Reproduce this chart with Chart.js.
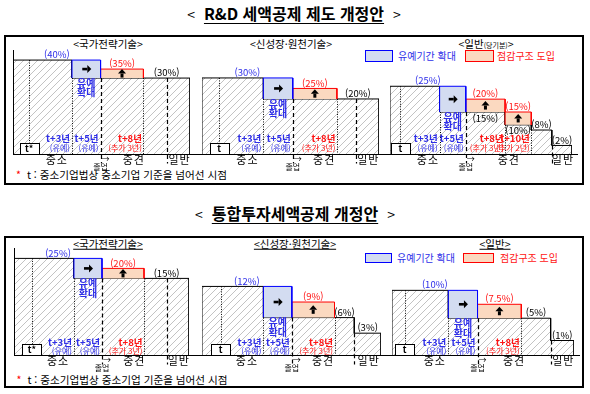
<!DOCTYPE html>
<html lang="ko">
<head>
  <meta charset="UTF-8" />
  <title>R&amp;D 세액공제 · 통합투자세액공제 개정안</title>
  <script src="https://cdn.jsdelivr.net/npm/chart.js"></script>
  <style>
    body { margin: 0; width: 590px; height: 394px; position: relative; overflow: hidden; background: #fff;
           font-family: "Noto Sans CJK KR", "Noto Sans", sans-serif; color: #000; }
    .panel { position: absolute; left: 4px; width: 580px; border: 2px solid #000; box-sizing: border-box; }
    canvas { position: absolute; }
    .lbl { position: absolute; white-space: nowrap; line-height: 1; transform: translate(-50%, -50%); }
    .lbl.left { transform: translate(0, -50%); }
    .title { font-size: 16px; font-weight: bold; }
    .title .u { text-decoration: underline; text-underline-offset: 3px; margin: 0 9px; }
    .title .br { font-weight: normal; font-size: 14px; }
    .sub { font-size: 10.5px; }
    .sub.u { text-decoration: underline; }
    .small { font-size: 7px; }
    .key { position: absolute; box-sizing: border-box; }
    .legtxt { font-size: 10px; }
    .note { font-size: 10.6px; }
  </style>
</head>

<body>
  <div class="panel" style="top:35px;height:150px"></div>
  <div class="panel" style="top:236px;height:152px"></div>

  <script>
    // rates in %, years counted after t (the point a firm outgrows SME status)
    const graceYears = [3, 5];   // 유예 t+3 -> t+5 (졸업)

    // R&D 세액공제
    const rdStratRates = [40, 30, 30];         // 국가전략기술: 중소, 중견, 일반
    const rdStratUntil = [3, 9.65];
    const rdStratTaper = [35];
    const rdStratTaperUntil = [8];

    const rdNewRates = [30, 20, 20];           // 신성장·원천기술
    const rdNewUntil = [3, 9.27];
    const rdNewTaper = [25];
    const rdNewTaperUntil = [8];

    const rdGenRates = [25, 15, 10, 8, 2];     // 일반(당기분)
    const rdGenUntil = [3, 8, 10, 11.57];
    const rdGenTaper = [20, 15];
    const rdGenTaperUntil = [8, 10];

    // 통합투자세액공제
    const invStratRates = [25, 15, 15];
    const invStratUntil = [3, 9.62];
    const invStratTaper = [20];
    const invStratTaperUntil = [8];

    const invNewRates = [12, 6, 3];
    const invNewUntil = [3, 9.39];
    const invNewTaper = [9];
    const invNewTaperUntil = [8];

    const invGenRates = [10, 5, 1];
    const invGenUntil = [3, 10.01];
    const invGenTaper = [7.5];
    const invGenTaperUntil = [8];

    const BLUE = '#2e2ee8', RED = '#ff1414', FONT = '"Noto Sans CJK KR", sans-serif';

    // page layout
    const panels = [
      { top: 36, height: 148, padTop: 14, padBottom: 30, textUp: 16, textLow: 7 },
      { top: 237, height: 150, padTop: 11, padBottom: 32, textUp: 13, textLow: 4.5 }
    ];
    // panel, canvas left, width, pad left, pad right, x range, y range
    const frames = [
      [0, 6, 192, 7, 8, -1.13, 11.26, -12.2, 45.6],
      [0, 198, 188, 4, 7, -1.17, 10.86, -6.2, 43.3],
      [0, 386, 198, 4, 12, -0.79, 13.11, -1.32, 39.1],
      [1, 6, 192, 8, 9, -1.28, 11.21, -23.3, 30.2],
      [1, 198, 188, 4, 5, -1.32, 11.27, -1.2, 19.4],
      [1, 386, 198, 6, 10, -0.86, 11.61, -1.6, 17.6]
    ];
    const series = [
      [rdStratRates, rdStratUntil, rdStratTaper, rdStratTaperUntil, 't*'],
      [rdNewRates, rdNewUntil, rdNewTaper, rdNewTaperUntil, 't'],
      [rdGenRates, rdGenUntil, rdGenTaper, rdGenTaperUntil, 't'],
      [invStratRates, invStratUntil, invStratTaper, invStratTaperUntil, 't*'],
      [invNewRates, invNewUntil, invNewTaper, invNewTaperUntil, 't'],
      [invGenRates, invGenUntil, invGenTaper, invGenTaperUntil, 't']
    ];

    function put(html, x, y, cls) {
      const d = document.createElement('div');
      d.className = 'lbl ' + (cls || '');
      d.style.left = x + 'px';
      d.style.top = y + 'px';
      d.innerHTML = html;
      document.body.appendChild(d);
    }

    function key(x, y, w, h, border, bg) {
      const d = document.createElement('div');
      d.className = 'key';
      Object.assign(d.style, { left: x + 'px', top: y + 'px', width: w + 'px', height: h + 'px',
        border: '1px solid ' + border, background: bg });
      document.body.appendChild(d);
    }

    // titles, subtitles, legends, notes
    put('<span class="br">&lt;</span><span class="u">R&amp;D 세액공제 제도 개정안</span><span class="br">&gt;</span>', 294, 13, 'title');
    put('<span class="br">&lt;</span><span class="u">통합투자세액공제 개정안</span><span class="br">&gt;</span>', 295, 212.5, 'title');

    put('&lt;국가전략기술&gt;', 108, 44, 'sub');
    put('&lt;신성장·원천기술&gt;', 291, 44, 'sub');
    put('&lt;일반<span class="small">(당기분)</span>&gt;', 486, 44, 'sub');
    put('&lt;국가전략기술&gt;', 108, 243.5, 'sub u');
    put('&lt;신성장·원천기술&gt;', 295, 243.5, 'sub u');
    put('&lt;일반&gt;', 495, 243.5, 'sub u');

    key(365, 50, 28, 12, '#0000ff', '#d3dcf1');
    key(465, 50, 29, 12, '#ff0000', '#fbd9c0');
    put('<span style="color:' + BLUE + '">유예기간 확대</span>', 398, 56, 'legtxt left');
    put('<span style="color:' + RED + '">점감구조 도입</span>', 497, 56, 'legtxt left');
    key(365, 253, 27, 10, '#0000ff', '#d3dcf1');
    key(463, 253, 31, 10, '#ff0000', '#fbd9c0');
    put('<span style="color:' + BLUE + '">유예기간 확대</span>', 397, 257.5, 'legtxt left');
    put('<span style="color:' + RED + '">점감구조 도입</span>', 500, 257.5, 'legtxt left');

    const note = '<span style="color:#f00">*</span>&nbsp; t : 중소기업법상 중소기업 기준을 넘어선 시점';
    put(note, 16, 174.5, 'note left');
    put(note, 16.5, 380, 'note left');

    // hatch for the current-law area
    function hatch() {
      const c = document.createElement('canvas');
      c.width = c.height = 7;
      const g = c.getContext('2d');
      g.fillStyle = '#fff';
      g.fillRect(0, 0, 7, 7);
      g.strokeStyle = '#b4b4b4';
      g.lineWidth = 0.8;
      g.beginPath(); g.moveTo(-1, 8); g.lineTo(8, -1); g.stroke();
      return g.createPattern(c, 'repeat');
    }
    const HATCH = hatch();

    const rateAt = (rates, until, v) => {
      const i = until.findIndex(u => v < u);
      return rates[i < 0 ? rates.length - 1 : i];
    };

    function stepPoints(rates, until, x0, x1, y0) {
      const pts = [{ x: x0, y: y0 }, { x: x0, y: rates[0] }];
      until.forEach((u, i) => pts.push({ x: u, y: rates[i] }, { x: u, y: rates[i + 1] }));
      pts.push({ x: x1, y: rates[rates.length - 1] }, { x: x1, y: y0 });
      return pts;
    }

    const boxPoints = (a, b, lo, hi) => [{ x: a, y: lo }, { x: a, y: hi }, { x: b, y: hi }, { x: b, y: lo }];

    function txt(ctx, s, x, y, color, font, align, spacing) {
      ctx.font = font + ' ' + FONT;
      ctx.fillStyle = color;
      ctx.textAlign = align || 'center';
      ctx.textBaseline = 'middle';
      ctx.letterSpacing = spacing || '0px';
      ctx.fillText(s, x, y);
      ctx.letterSpacing = '0px';
    }

    function vline(ctx, x, y0, y1, dash, w) {
      ctx.save();
      ctx.setLineDash(dash);
      ctx.lineWidth = w || 1;
      ctx.strokeStyle = '#000';
      ctx.beginPath(); ctx.moveTo(x, y0); ctx.lineTo(x, y1); ctx.stroke();
      ctx.restore();
    }

    function makeDeco(rates, until, taper, taperUntil, tLabel, p, first, lastCol) {
      return {
        id: 'deco',
        afterDatasetsDraw(chart) {
          const { ctx, chartArea: ca, scales } = chart;
          const X = v => scales.x.getPixelForValue(v), Y = v => scales.y.getPixelForValue(v);
          const R = v => Math.round(X(v)) + 0.5;
          const b = Math.round(ca.bottom) + 0.5;
          const xMin = scales.x.min, xMax = scales.x.max;
          const [g0, g1] = graceYears;
          const genAt = until[until.length - 1];
          const rate = v => rateAt(rates, until, v);
          ctx.save();

          // baseline and axis
          ctx.strokeStyle = '#000';
          ctx.lineWidth = 1;
          ctx.beginPath();
          ctx.moveTo(first ? ca.left : 0, b);
          ctx.lineTo(lastCol ? ca.right + 6 : chart.width, b);
          ctx.stroke();
          if (first) vline(ctx, Math.round(ca.left) + 0.5, ca.top, b, []);

          // guide lines
          vline(ctx, R(0), Y(rates[0]), b, [1, 1.5]);
          vline(ctx, R(g0), Y(rate(g0)), b, [1, 1.5]);
          taperUntil.forEach(u => vline(ctx, R(u), Y(Math.min(rate(u - 0.01), rate(u))), b, [1, 1.5]));
          vline(ctx, R(g1), Y(rate(g1)), b + 9, [4, 3], 1.2);
          vline(ctx, R(genAt), Y(Math.min(rate(genAt - 0.01), rate(genAt))), b + 9, [4, 3], 1.2);

          // t box
          const tx = X(0);
          ctx.fillStyle = '#fff';
          ctx.fillRect(Math.round(tx - 9.5) + 0.5, b - 11, 19, 11);
          ctx.strokeRect(Math.round(tx - 9.5) + 0.5, b - 11, 19, 11);
          txt(ctx, tLabel, tx, b - 5.5, '#000', 'bold 9px');

          // percent labels
          const pct = v => '(' + v + '%)';
          const up = 5.5;
          txt(ctx, pct(rates[0]), (X(xMin) + X(g1)) / 2, Y(rates[0]) - up, BLUE, '9.5px');
          let from = g1;
          const afterTaper = rate(taperUntil[taperUntil.length - 1]);
          taper.forEach((v, i) => {
            const to = taperUntil[i], lo = rate((from + to) / 2), cx = (X(from) + X(to)) / 2;
            txt(ctx, pct(v), cx, Y(v) - up, RED, '9.5px');
            if (lo !== afterTaper) txt(ctx, pct(lo), cx, Y(lo) + 6, '#000', '9.5px');
            // up arrow in the taper box
            const cy = (Y(v) + Y(lo)) / 2;
            ctx.fillStyle = '#000';
            ctx.beginPath();
            ctx.moveTo(cx - 4, cy); ctx.lineTo(cx, cy - 4.5); ctx.lineTo(cx + 4, cy); ctx.closePath(); ctx.fill();
            ctx.fillRect(cx - 1.5, cy, 3, 4);
            from = to;
          });
          let segStart = from, cur = rate(from);
          until.filter(u => u > from).concat([xMax]).forEach(e => {
            const nxt = e < xMax ? rate(e) : null;
            if (nxt !== cur) {
              txt(ctx, pct(cur), (X(segStart) + X(e)) / 2, Y(cur) - up, '#000', '9.5px');
              segStart = e;
              cur = nxt;
            }
          });

          // grace box: arrow and caption
          const gx = (X(g0) + X(g1)) / 2, gy = (Y(rates[0]) + Y(rate(g0))) / 2;
          ctx.fillStyle = '#000';
          ctx.fillRect(gx - 4, gy - 1.3, 5, 2.6);
          ctx.beginPath();
          ctx.moveTo(gx + 1, gy - 4); ctx.lineTo(gx + 5, gy); ctx.lineTo(gx + 1, gy + 4); ctx.closePath(); ctx.fill();
          txt(ctx, '유예', gx, Y(rate(g0)) + 5, BLUE, 'bold 10px');
          txt(ctx, '확대', gx, Y(rate(g0)) + 14.5, BLUE, 'bold 10px');

          // year captions
          const yUp = b - p.textUp, yLow = b - p.textLow;
          [g0, g1].forEach(g => {
            txt(ctx, 't+' + g + '년', X(g) - 2, yUp, BLUE, 'bold 9.5px', 'right');
            txt(ctx, '(유예)', X(g) - 2, yLow, BLUE, '8px', 'right');
          });
          from = g1;
          taperUntil.forEach(u => {
            txt(ctx, 't+' + u + '년', X(u) - 1.5, yUp, RED, 'bold 9.5px', 'right');
            txt(ctx, '(추가 ' + (u - from) + '년)', X(u) - 1.5, yLow, RED, '8px', 'right');
            from = u;
          });

          // stage labels under the baseline
          txt(ctx, '중소', (X(xMin) + X(g1)) / 2, b + 5, '#000', '11px', 'center', '1px');
          txt(ctx, '중견', (X(g1) + X(genAt)) / 2, b + 5, '#000', '11px', 'center', '1px');
          txt(ctx, '일반', (X(genAt) + X(xMax)) / 2 + 1, b + 5, '#000', '11px', 'center', '1px');
          txt(ctx, '→', X(g1) + 1, b + 4, '#000', '8px', 'left');
          txt(ctx, '졸업', X(g1), b + 12.5, '#000', '8px');
          ctx.restore();
        }
      };
    }

    frames.forEach((f, i) => {
      const [pi, left, width, padL, padR, xMin, xMax, yMin, yMax] = f;
      const [rates, until, taper, taperUntil, tLabel] = series[i];
      const p = panels[pi];
      const cv = document.createElement('canvas');
      cv.width = width;
      cv.height = p.height;
      cv.style.left = left + 'px';
      cv.style.top = p.top + 'px';
      document.body.appendChild(cv);

      const [g0, g1] = graceYears;
      const datasets = [{
        data: stepPoints(rates, until, xMin, xMax, yMin),
        borderColor: '#000', borderWidth: 1, backgroundColor: HATCH, fill: 'start', order: 3
      }, {
        data: boxPoints(g0, g1, rateAt(rates, until, g0), rates[0]),
        borderColor: '#0000ff', borderWidth: 1, backgroundColor: '#d3dcf1',
        fill: { value: rateAt(rates, until, g0) }, order: 1
      }];
      let from = g1;
      taper.forEach((v, k) => {
        const to = taperUntil[k], lo = rateAt(rates, until, (from + to) / 2);
        datasets.push({
          data: boxPoints(from, to, lo, v),
          borderColor: '#ff0000', borderWidth: 1, backgroundColor: '#fbd9c0',
          fill: { value: lo }, order: 1
        });
        from = to;
      });

      new Chart(cv, {
        type: 'line',
        data: { datasets },
        options: {
          responsive: false,
          animation: false,
          devicePixelRatio: 1,
          layout: { padding: { left: padL, right: padR, top: p.padTop, bottom: p.padBottom } },
          elements: { point: { radius: 0 }, line: { tension: 0 } },
          scales: {
            x: { type: 'linear', min: xMin, max: xMax, display: false },
            y: { min: yMin, max: yMax, display: false }
          },
          plugins: { legend: { display: false }, tooltip: { enabled: false } }
        },
        plugins: [makeDeco(rates, until, taper, taperUntil, tLabel, p, i % 3 === 0, i % 3 === 2)]
      });
    });
  </script>
</body>

</html>
